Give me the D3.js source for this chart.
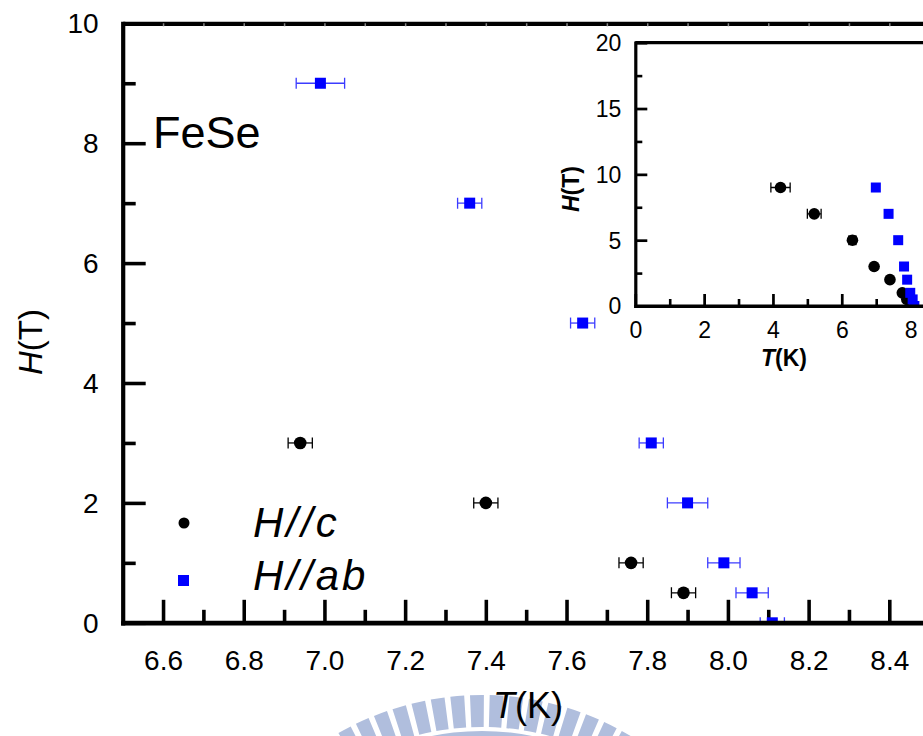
<!DOCTYPE html>
<html lang="en">
<head>
<meta charset="UTF-8">
<title>FeSe H-T</title>
<script src="https://d3js.org/d3.v7.min.js"></script>
<style>
  body { margin: 0; background: #fff; }
  svg { display: block; font-family: "Liberation Sans", Arial, sans-serif; }
</style>
</head>
<body>
<div id="chart"></div>
<script>
// H // c (black circles)
const cT   = [4.22, 5.20, 6.31, 6.94, 7.40, 7.76, 7.89];
const cH   = [9, 7, 5, 3, 2, 1, 0.5];
const cErr = [0.28, 0.20, 0.10, 0.03, 0.03, 0.03, 0.03];
// H // ab (blue squares)
const abT   = [6.99, 7.36, 7.64, 7.81, 7.90, 7.99, 8.06, 8.11];
const abH   = [9, 7, 5, 3, 2, 1, 0.5, 0];
const abErr = [0.06, 0.03, 0.03, 0.03, 0.05, 0.04, 0.04, 0.03];

const mainXTicks = [6.6, 6.8, 7.0, 7.2, 7.4, 7.6, 7.8, 8.0, 8.2, 8.4];
const mainXMinor = [6.7, 6.9, 7.1, 7.3, 7.5, 7.7, 7.9, 8.1, 8.3, 8.5];
const mainYTicks = [0, 2, 4, 6, 8, 10];
const mainYMinor = [1, 3, 5, 7, 9];
const insetXTicks = [0, 2, 4, 6, 8];
const insetXMinor = [1, 3, 5, 7];
const insetYTicks = [0, 5, 10, 15, 20];
const insetYMinor = [2.5, 7.5, 12.5, 17.5];

const FONT = "'Liberation Sans', Arial, sans-serif";
const W = 923, H = 736;
const svg = d3.select("#chart").append("svg").attr("width", W).attr("height", H);

const cData = cT.map((t, i) => ({ t: t, h: cH[i], e: cErr[i] }));
const abData = abT.map((t, i) => ({ t: t, h: abH[i], e: abErr[i] }));

// faint watermark at the bottom
const wm = svg.append("g").attr("transform", "translate(482,985)").attr("fill", "#b0bedd");
const arcStripe = d3.arc().innerRadius(258).outerRadius(290);
d3.range(-40, 41, 3.9).forEach(function(a) {
    const r = a * Math.PI / 180;
    wm.append("path").attr("d", arcStripe({ startAngle: r - 0.024, endAngle: r + 0.024 }));
});
wm.append("path").attr("d", d3.arc().innerRadius(232).outerRadius(254)({ startAngle: -0.9, endAngle: 0.9 }));

// ---------- main plot ----------
const x = d3.scaleLinear().domain([6.5, 8.6]).range([122.7, 970]);
const y = d3.scaleLinear().domain([0, 10]).range([622.8, 23.3]);

svg.append("clipPath").attr("id", "mainClip")
    .append("rect").attr("x", 122.7).attr("y", 23.3).attr("width", 900).attr("height", 599.5);

function styleAxis(g, w) {
    g.attr("font-family", FONT);
    g.select(".domain").attr("stroke-width", w).attr("stroke-linecap", "square");
    g.selectAll(".tick line").attr("stroke-width", w * 0.85);
    g.selectAll("text").attr("fill", "#000");
}

svg.append("g").attr("transform", "translate(0," + y(0) + ")")
    .call(d3.axisBottom(x).tickValues(mainXMinor).tickSizeInner(-13).tickSizeOuter(0).tickFormat(""))
    .call(g => g.select(".domain").remove())
    .call(g => g.selectAll(".tick line").attr("stroke-width", 3.6));
svg.append("g").attr("transform", "translate(0," + y(0) + ")")
    .call(d3.axisBottom(x).tickValues(mainXTicks).tickSizeInner(-23).tickSizeOuter(0)
        .tickPadding(27).tickFormat(d3.format(".1f")))
    .call(g => styleAxis(g, 4.2))
    .call(g => g.selectAll("text").style("font-size", "28px"));

svg.append("g").attr("transform", "translate(" + x(6.5) + ",0)")
    .call(d3.axisLeft(y).tickValues(mainYMinor).tickSizeInner(-13).tickSizeOuter(0).tickFormat(""))
    .call(g => g.select(".domain").remove())
    .call(g => g.selectAll(".tick line").attr("stroke-width", 3.6));
svg.append("g").attr("transform", "translate(" + x(6.5) + ",0)")
    .call(d3.axisLeft(y).tickValues(mainYTicks).tickSizeInner(-23).tickSizeOuter(0)
        .tickPadding(24).tickFormat(d3.format("d")))
    .call(g => styleAxis(g, 4.2))
    .call(g => g.selectAll("text").style("font-size", "28px").attr("dy", "0.34em"));

// top frame with tiny mirrored ticks
svg.append("g").attr("transform", "translate(0," + y(10) + ")")
    .call(d3.axisTop(x).tickValues(mainXTicks.concat(mainXMinor)).tickSizeInner(-3).tickSizeOuter(0).tickFormat(""))
    .call(g => g.select(".domain").attr("stroke-width", 4.2))
    .call(g => g.selectAll(".tick line").attr("stroke", "#888").attr("stroke-width", 1.5));

// data
function errorBars(g, data, xs, ys, color, w, cap) {
    const eb = g.selectAll(null).data(data).enter().append("g")
        .attr("stroke", color).attr("stroke-width", w);
    eb.append("line").attr("x1", d => xs(d.t - d.e)).attr("x2", d => xs(d.t + d.e))
        .attr("y1", d => ys(d.h)).attr("y2", d => ys(d.h));
    eb.append("line").attr("x1", d => xs(d.t - d.e)).attr("x2", d => xs(d.t - d.e))
        .attr("y1", d => ys(d.h) - cap).attr("y2", d => ys(d.h) + cap);
    eb.append("line").attr("x1", d => xs(d.t + d.e)).attr("x2", d => xs(d.t + d.e))
        .attr("y1", d => ys(d.h) - cap).attr("y2", d => ys(d.h) + cap);
}

const plot = svg.append("g").attr("clip-path", "url(#mainClip)");
errorBars(plot, abData, x, y, "#3c3cff", 1.3, 5.5);
errorBars(plot, cData, x, y, "#000", 1.3, 5.5);
plot.selectAll(".sq").data(abData).enter().append("rect")
    .attr("x", d => x(d.t) - 5.5).attr("y", d => y(d.h) - 5.5)
    .attr("width", 11).attr("height", 11).attr("fill", "#0000ff");
plot.selectAll(".ci").data(cData).enter().append("circle")
    .attr("cx", d => x(d.t)).attr("cy", d => y(d.h)).attr("r", 6.3).attr("fill", "#000");

// redraw bottom axis line over clipped markers
svg.append("line").attr("x1", x(6.5)).attr("x2", W).attr("y1", y(0)).attr("y2", y(0))
    .attr("stroke", "#000").attr("stroke-width", 4.2);

// labels
svg.append("text").attr("x", 153).attr("y", 148).style("font-size", "45px").text("FeSe");

const xl = svg.append("text").attr("x", 528).attr("y", 718).attr("text-anchor", "middle").style("font-size", "36px");
xl.append("tspan").style("font-style", "italic").text("T");
xl.append("tspan").text("(K)");

const yl = svg.append("text").attr("transform", "translate(42,342) rotate(-90)")
    .attr("text-anchor", "middle").style("font-size", "33px");
yl.append("tspan").style("font-style", "italic").text("H");
yl.append("tspan").text("(T)");

// legend
svg.append("circle").attr("cx", 184).attr("cy", 523).attr("r", 5.5).attr("fill", "#000");
svg.append("rect").attr("x", 178).attr("y", 575).attr("width", 11).attr("height", 11).attr("fill", "#0000ff");
svg.append("text").attr("x", 253).attr("y", 537).style("font-size", "42px").style("font-style", "italic")
    .style("letter-spacing", "3px").text("H//c");
svg.append("text").attr("x", 253).attr("y", 590).style("font-size", "42px").style("font-style", "italic")
    .style("letter-spacing", "3px").text("H//ab");

// ---------- inset ----------
const ix = d3.scaleLinear().domain([0, 9]).range([635.3, 945]);
const iy = d3.scaleLinear().domain([0, 20]).range([306, 42.7]);

svg.append("rect").attr("x", ix(0)).attr("y", iy(20)).attr("width", 300).attr("height", iy(0) - iy(20)).attr("fill", "#fff");
svg.append("clipPath").attr("id", "insetClip")
    .append("rect").attr("x", ix(0)).attr("y", iy(20)).attr("width", 300).attr("height", iy(0) - iy(20));

const inset = svg.append("g");
inset.append("g").attr("transform", "translate(0," + iy(0) + ")")
    .call(d3.axisBottom(ix).tickValues(insetXMinor).tickSizeInner(-7).tickSizeOuter(0).tickFormat(""))
    .call(g => g.select(".domain").remove())
    .call(g => g.selectAll(".tick line").attr("stroke-width", 2.6));
inset.append("g").attr("transform", "translate(0," + iy(0) + ")")
    .call(d3.axisBottom(ix).tickValues(insetXTicks).tickSizeInner(-12).tickSizeOuter(0)
        .tickPadding(16).tickFormat(d3.format("d")))
    .call(g => styleAxis(g, 3.2))
    .call(g => g.selectAll("text").style("font-size", "23px"));
inset.append("g").attr("transform", "translate(" + ix(0) + ",0)")
    .call(d3.axisLeft(iy).tickValues(insetYMinor).tickSizeInner(-7).tickSizeOuter(0).tickFormat(""))
    .call(g => g.select(".domain").remove())
    .call(g => g.selectAll(".tick line").attr("stroke-width", 2.6));
inset.append("g").attr("transform", "translate(" + ix(0) + ",0)")
    .call(d3.axisLeft(iy).tickValues(insetYTicks).tickSizeInner(-12).tickSizeOuter(0)
        .tickPadding(14).tickFormat(d3.format("d")))
    .call(g => styleAxis(g, 3.2))
    .call(g => g.selectAll("text").style("font-size", "23px").attr("dy", "0.34em"));
inset.append("line").attr("x1", ix(0)).attr("x2", W).attr("y1", iy(20)).attr("y2", iy(20))
    .attr("stroke", "#000").attr("stroke-width", 3.2);

const ip = inset.append("g").attr("clip-path", "url(#insetClip)");
errorBars(ip, cData, ix, iy, "#000", 1.3, 5);
ip.selectAll(".ci").data(cData).enter().append("circle")
    .attr("cx", d => ix(d.t)).attr("cy", d => iy(d.h)).attr("r", 5.8).attr("fill", "#000");
ip.selectAll(".sq").data(abData).enter().append("rect")
    .attr("x", d => ix(d.t) - 5).attr("y", d => iy(d.h) - 5)
    .attr("width", 10).attr("height", 10).attr("fill", "#0000ff");
inset.append("line").attr("x1", ix(0)).attr("x2", W).attr("y1", iy(0)).attr("y2", iy(0))
    .attr("stroke", "#000").attr("stroke-width", 3.2);

const ixl = inset.append("text").attr("x", 784).attr("y", 366).attr("text-anchor", "middle")
    .style("font-size", "23px").style("font-weight", "bold");
ixl.append("tspan").style("font-style", "italic").text("T");
ixl.append("tspan").text("(K)");
const iyl = inset.append("text").attr("transform", "translate(579,189) rotate(-90)")
    .attr("text-anchor", "middle").style("font-size", "23px").style("font-weight", "bold");
iyl.append("tspan").style("font-style", "italic").text("H");
iyl.append("tspan").text("(T)");
</script>
</body>
</html>
